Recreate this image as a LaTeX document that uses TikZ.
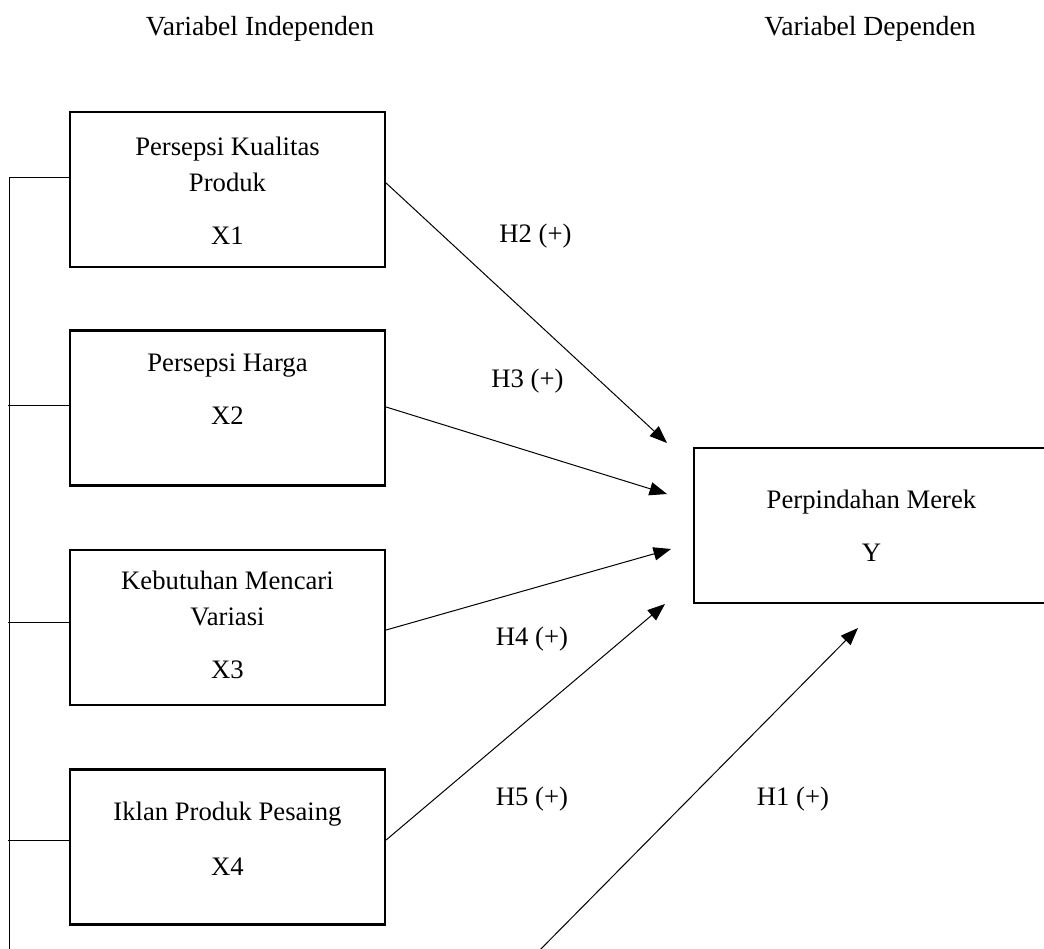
\documentclass[tikz,border=0pt]{standalone}
\usepackage{fontspec}
\setmainfont{Liberation Serif}
\usetikzlibrary{calc}
\usetikzlibrary{arrows.meta}

\tikzset{
  varbox/.style={draw, line width=1.3pt, minimum width=189pt, minimum height=93pt, inner sep=0pt},
  vartext/.style={align=center, font=\fontsize{16}{21.6}\selectfont, inner sep=0pt},
  headtext/.style={font=\fontsize{16.6}{20}\selectfont, inner sep=0pt},
  hyplabel/.style={font=\fontsize{16}{18}\selectfont, inner sep=0pt},
  link/.style={line width=0.6pt},
  hyp/.style={line width=0.6pt, -{Triangle[length=10.5pt,width=8pt]}}
}

\begin{document}
\begin{tikzpicture}[x=0.6pt, y=-0.6pt]
\useasboundingbox (0,0) rectangle (1044,949);

% headings
\node[headtext] (indep) at (260,29) {Variabel Independen};
\node[headtext] (dep) at (870,29) {Variabel Dependen};

% independent variables
\node[varbox] (x1) at (227.5,189.5) {};
\node[varbox] (x2) at (227.5,408) {};
\node[varbox] (x3) at (227.5,627.5) {};
\node[varbox] (x4) at (227.5,847) {};
\node[vartext] (t1) at (227.5,191) {Persepsi Kualitas\\Produk\\[10.2pt]X1};
\node[vartext] (t2) at (227.5,389) {Persepsi Harga\\[10.2pt]X2};
\node[vartext] (t3) at (227.5,625) {Kebutuhan Mencari\\Variasi\\[10.2pt]X3};
\node[vartext] (t4) at (227.5,839) {Iklan Produk Pesaing\\[11.4pt]X4};

% dependent variable
\node[varbox, minimum width=220pt] (y) at (877,525.5) {};
\node[vartext] (ty) at (871.5,526) {Perpindahan Merek\\[10.2pt]Y};

% left bus
\coordinate (busend) at (9,960);
\draw[link] ($(x1.west)+(0,-12.5)$) -| (busend);
\draw[link] ($(x2.west)+(0,-3)$) -- ++(-61,0);
\draw[link] ($(x3.west)+(0,-5.5)$) -- ++(-61,0);
\draw[link] ($(x4.west)+(0,-7)$) -- ++(-61,0);

% hypotheses
\coordinate (tip1) at (667,443);
\coordinate (tip2) at (667,494);
\coordinate (tip3) at (671,549);
\coordinate (tip4) at (665,604);
\coordinate (tip5) at (858,628);
\coordinate (h1start) at (530,960);
\draw[hyp] ($(x1.east)+(0,-6.5)$) -- (tip1);
\draw[hyp] ($(x2.east)+(0,-1)$) -- (tip2);
\draw[hyp] ($(x3.east)+(0,2.5)$) -- (tip3);
\draw[hyp] ($(x4.east)+(0,-7)$) -- (tip4);
\draw[hyp] (h1start) -- (tip5);

\node[hyplabel] (h2) at (535.5,236) {H2 (+)};
\node[hyplabel] (h3) at (527.5,381) {H3 (+)};
\node[hyplabel] (h4) at (532,639) {H4 (+)};
\node[hyplabel] (h5) at (532,799) {H5 (+)};
\node[hyplabel] (h1) at (793,799) {H1 (+)};
\end{tikzpicture}
\end{document}
